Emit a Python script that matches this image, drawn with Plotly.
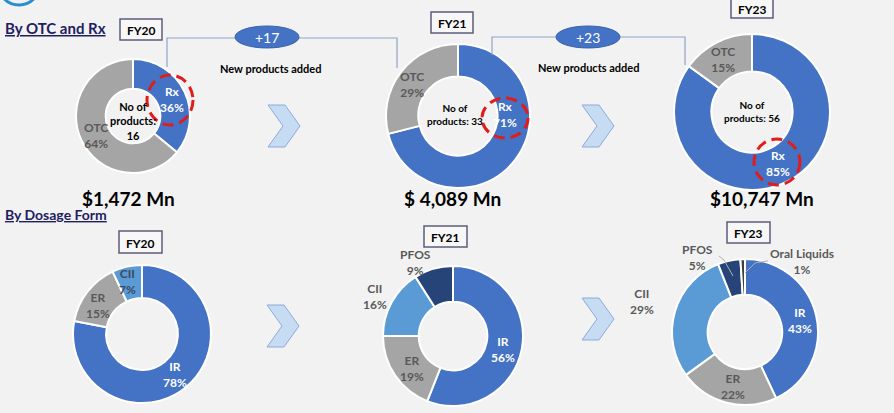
import plotly.graph_objects as go

W, H = 894, 413

# ---------------- data ----------------
years = ["FY20", "FY21", "FY23"]
otc_rx_labels = ["Rx", "OTC"]
otc_rx_fy20 = [36, 64]
otc_rx_fy21 = [71, 29]
otc_rx_fy23 = [85, 15]
product_counts = [16, 33, 56]
new_products = [17, 23]
revenue_labels = ["$1,472 Mn", "$ 4,089 Mn", "$10,747 Mn"]

dosage_labels_fy20 = ["IR", "ER", "CII"]
dosage_share_fy20 = [78, 15, 7]
dosage_labels_fy21 = ["IR", "ER", "CII", "PFOS"]
dosage_share_fy21 = [56, 19, 16, 9]
dosage_labels_fy23 = ["IR", "ER", "CII", "PFOS", "Oral Liquids"]
dosage_share_fy23 = [43, 22, 29, 5, 1]

# ---------------- styling ----------------
BG = "#F2F2F2"
FONT = "Lato"
COLORS = {"Rx": "#4472C4", "OTC": "#A5A5A5", "IR": "#4472C4", "ER": "#A5A5A5",
          "CII": "#5B9BD5", "PFOS": "#264478", "Oral Liquids": "#3F3F3F"}
NAVY = "#1F2060"
GRAYTXT = "#595959"


def px(x):
    return x / W


def py(y):
    return 1 - y / H


def domain(cx, cy, r):
    return dict(x=[px(cx - r), px(cx + r)], y=[py(cy + r), py(cy - r)])


def path(points, close=False):
    s = "M " + " L ".join(f"{px(x):.5f},{py(y):.5f}" for x, y in points)
    return s + (" Z" if close else "")


fig = go.Figure()

# geometry (pixels): centre x, centre y, radius, hole
top_geo = [(133, 116, 57, 0.48), (458, 116, 72, 0.55), (752, 112, 78, 0.52)]
bot_geo = [(142, 334, 69, 0.52), (453, 336, 70, 0.49), (745, 332, 73, 0.51)]

top_sets = [(otc_rx_labels, otc_rx_fy20), (otc_rx_labels, otc_rx_fy21), (otc_rx_labels, otc_rx_fy23)]
bot_sets = [(dosage_labels_fy20, dosage_share_fy20), (dosage_labels_fy21, dosage_share_fy21),
            (dosage_labels_fy23, dosage_share_fy23)]

for geo, (labs, vals) in list(zip(top_geo, top_sets)) + list(zip(bot_geo, bot_sets)):
    cx, cy, r, hole = geo
    fig.add_trace(go.Pie(
        labels=labs, values=vals, hole=hole, sort=False, direction="clockwise",
        rotation=0, domain=domain(cx, cy, r),
        marker=dict(colors=[COLORS[l] for l in labs], line=dict(color="white", width=2)),
        textinfo="none", showlegend=False, hoverinfo="label+value",
    ))

shapes = []
annotations = []


def ann(x, y, text, size=12, color="black", **kw):
    annotations.append(dict(x=px(x), y=py(y), xref="paper", yref="paper", text=text,
                            showarrow=False, font=dict(family=FONT, size=size, color=color),
                            xanchor=kw.pop("xanchor", "center"), yanchor=kw.pop("yanchor", "middle"), **kw))


def slice_label(x, y, lab, val, color):
    ann(x, y, f"<b>{lab}<br>{val}%</b>", size=12, color=color)


# logo arc in the corner
shapes.append(dict(type="circle", xref="paper", yref="paper", x0=px(-2), x1=px(40),
                   y0=py(5), y1=py(-37), line=dict(color="#2A8FD0", width=3)))

# section titles
ann(3, 28, "<b><u>By OTC and Rx</u></b>", size=15, color=NAVY, xanchor="left")
ann(3, 214, "<b><u>By Dosage Form</u></b>", size=14, color=NAVY, xanchor="left")

# year boxes
boxes = [(120, 19, 162, 40), (431, 12, 473, 33), (731, -2, 773, 18),
         (119, 231, 162, 253), (424, 226, 467, 247), (727, 222, 770, 243)]
box_years = years + years
for (x0, y0, x1, y1), yr in zip(boxes, box_years):
    shapes.append(dict(type="rect", xref="paper", yref="paper", x0=px(x0), x1=px(x1),
                       y0=py(y1), y1=py(y0), fillcolor="#F7F7F7",
                       line=dict(color="#5E5C7A", width=1.5)))
    ann((x0 + x1) / 2, (y0 + y1) / 2 + 1, f"<b>{yr}</b>", size=12)

# connectors
shapes.append(dict(type="path", xref="paper", yref="paper",
                   path=path([(167, 67), (167, 38), (397, 38), (397, 68)]),
                   line=dict(color="#8FA3C9", width=1.2)))
shapes.append(dict(type="path", xref="paper", yref="paper",
                   path=path([(492, 55), (492, 37), (685, 37), (685, 65)]),
                   line=dict(color="#8FA3C9", width=1.2)))

# ovals with new products
for (cx, cy), n in zip([(267, 37), (588, 37)], new_products):
    shapes.append(dict(type="circle", xref="paper", yref="paper", x0=px(cx - 32), x1=px(cx + 32),
                       y0=py(cy + 11), y1=py(cy - 11), fillcolor="#4472C4",
                       line=dict(color="#3A62AE", width=1)))
    ann(cx, cy + 1, f"+{n}", size=14, color="white")
ann(270, 69, "<b>New products added</b>", size=11)
ann(588, 67, "<b>New products added</b>", size=11)

# chevrons
for (x0, y0) in [(268, 105), (582, 105), (267, 305), (582, 298)]:
    pts = [(x0, y0), (x0 + 17, y0), (x0 + 32, y0 + 21), (x0 + 17, y0 + 42), (x0, y0 + 42), (x0 + 15, y0 + 21)]
    shapes.append(dict(type="path", xref="paper", yref="paper", path=path(pts, close=True),
                       fillcolor="#C5DCF2", line=dict(color="#8EAADB", width=1)))

# centre texts
ann(133, 121, f"<b>No of<br>products:<br>{product_counts[0]}</b>", size=11)
ann(455, 114, f"<b>No of<br>products: {product_counts[1]}</b>", size=10)
ann(752, 112, f"<b>No of<br>products: {product_counts[2]}</b>", size=10)

# revenue labels
for x, t in zip([128, 452, 762], revenue_labels):
    ann(x, 198, f"<b>{t}</b>", size=19)

# slice labels (top row)
slice_label(172, 100, otc_rx_labels[0], otc_rx_fy20[0], "white")
slice_label(96, 135, otc_rx_labels[1], otc_rx_fy20[1], GRAYTXT)
slice_label(505, 114, otc_rx_labels[0], otc_rx_fy21[0], "white")
slice_label(412, 84, otc_rx_labels[1], otc_rx_fy21[1], GRAYTXT)
slice_label(778, 164, otc_rx_labels[0], otc_rx_fy23[0], "white")
slice_label(723, 60, otc_rx_labels[1], otc_rx_fy23[1], GRAYTXT)

# slice labels (bottom row)
slice_label(175, 374, dosage_labels_fy20[0], dosage_share_fy20[0], "white")
slice_label(98, 305, dosage_labels_fy20[1], dosage_share_fy20[1], GRAYTXT)
slice_label(127, 281, dosage_labels_fy20[2], dosage_share_fy20[2], "#3B4A5C")

slice_label(503, 349, dosage_labels_fy21[0], dosage_share_fy21[0], "white")
slice_label(412, 368, dosage_labels_fy21[1], dosage_share_fy21[1], GRAYTXT)
slice_label(375, 296, dosage_labels_fy21[2], dosage_share_fy21[2], GRAYTXT)
slice_label(415, 262, dosage_labels_fy21[3], dosage_share_fy21[3], GRAYTXT)

slice_label(800, 320, dosage_labels_fy23[0], dosage_share_fy23[0], "white")
slice_label(733, 386, dosage_labels_fy23[1], dosage_share_fy23[1], GRAYTXT)
slice_label(642, 301, dosage_labels_fy23[2], dosage_share_fy23[2], GRAYTXT)
slice_label(697, 257, dosage_labels_fy23[3], dosage_share_fy23[3], GRAYTXT)
slice_label(802, 261, dosage_labels_fy23[4], dosage_share_fy23[4], GRAYTXT)

# red dashed highlight circles
for cx, cy, rx, ry in [(170, 100, 23, 25), (505, 118, 23, 20), (777, 162, 23, 23)]:
    shapes.append(dict(type="circle", xref="paper", yref="paper", x0=px(cx - rx), x1=px(cx + rx),
                       y0=py(cy + ry), y1=py(cy - ry),
                       line=dict(color="#E21B1B", width=3, dash="11px,6px")))

# leader lines
shapes.append(dict(type="path", xref="paper", yref="paper",
                   path=path([(719, 256), (724, 260), (733, 276)]),
                   line=dict(color="#B0B0B0", width=1)))
shapes.append(dict(type="path", xref="paper", yref="paper",
                   path=path([(768, 261), (755, 263), (745, 273)]),
                   line=dict(color="#B0B0B0", width=1)))

fig.update_layout(
    width=W, height=H, margin=dict(l=0, r=0, t=0, b=0),
    paper_bgcolor=BG, plot_bgcolor=BG,
    shapes=shapes, annotations=annotations,
    font=dict(family=FONT),
)

fig.write_html("out.html", config={"displayModeBar": False},
               post_script="document.body.style.margin='0';document.body.style.padding='0';")
